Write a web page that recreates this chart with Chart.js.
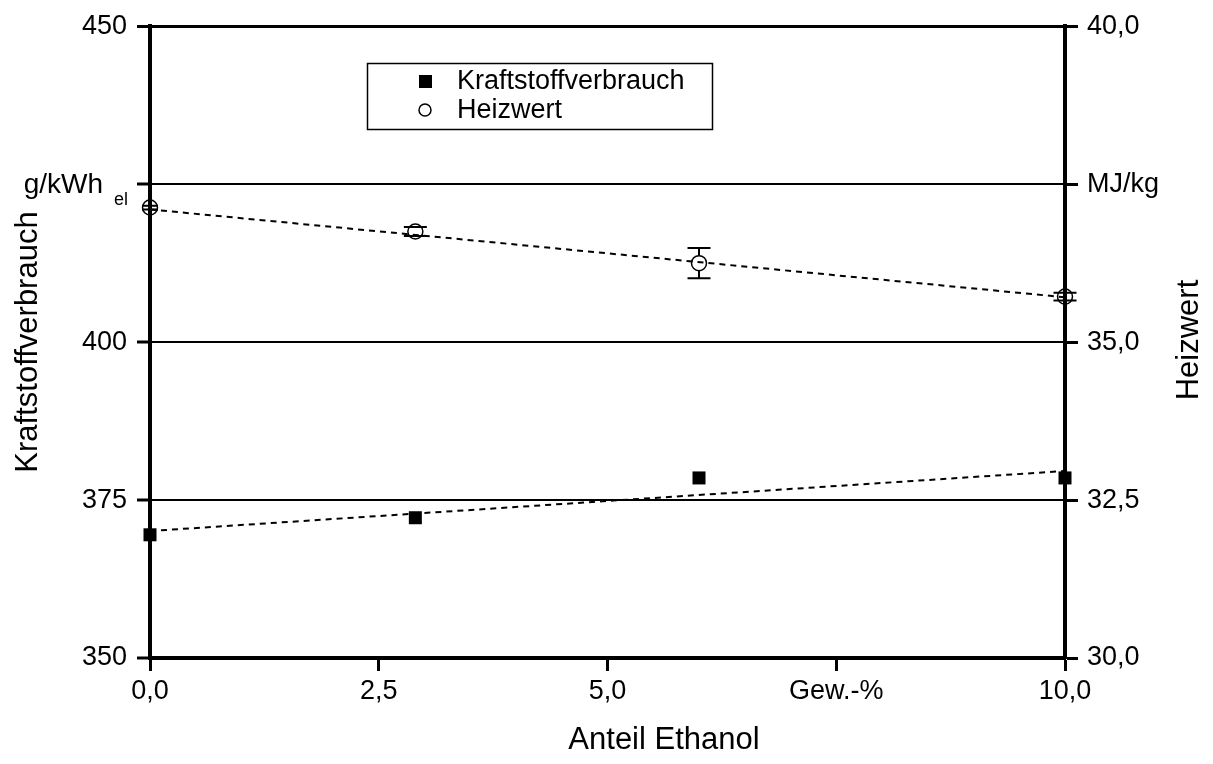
<!DOCTYPE html>
<html>
<head>
<meta charset="utf-8">
<script src="https://cdn.jsdelivr.net/npm/chart.js@4/dist/chart.umd.min.js"></script>
<style>
    body { margin: 0; background: #fff; }
    #wrap { width: 1213px; height: 764px; }
</style>
</head>
<body>
<div id="wrap"><canvas id="chart" width="1213" height="764"></canvas></div>
<script>
// Data
const ethanol = [0, 2.9, 6.0, 10.0];
const verbrauch = [369.5, 372.2, 378.5, 378.5];
const heizwert = [37.13, 36.75, 36.25, 35.72];
const heizwertErr = [0.03, 0.07, 0.24, 0.06];

// linear fits as drawn (end points)
const trendX = [0, 10];
const verbrauchTrend = [370.1, 379.6];
const heizwertTrend = [37.1, 35.71];

const xTicks = ['0,0', '2,5', '5,0', 'Gew.-%', '10,0'];
const leftTicks = ['350', '375', '400', '', '450'];
const rightTicks = ['30,0', '32,5', '35,0', 'MJ/kg', '40,0'];

const FONT = "'Liberation Sans', Arial, sans-serif";

const pts = (xs, ys) => xs.map((x, i) => ({ x: x, y: ys[i] }));

// error bars, legend box, unit label with subscript, axis titles
const extras = {
    id: 'extras',
    afterDatasetsDraw(chart) {
        const ctx = chart.ctx;
        const xs = chart.scales.x, yr = chart.scales.y2;
        const r = 7.5;
        ctx.save();
        ctx.strokeStyle = '#000';
        ctx.lineWidth = 2;
        ethanol.forEach((x, i) => {
            const px = xs.getPixelForValue(x);
            const py = yr.getPixelForValue(heizwert[i]);
            const top = yr.getPixelForValue(heizwert[i] + heizwertErr[i]);
            const bot = yr.getPixelForValue(heizwert[i] - heizwertErr[i]);
            const cap = heizwertErr[i] < 0.05 ? 8 : 11.5;
            ctx.beginPath();
            if (top < py - r) { ctx.moveTo(px, top); ctx.lineTo(px, py - r); }
            if (bot > py + r) { ctx.moveTo(px, py + r); ctx.lineTo(px, bot); }
            ctx.moveTo(px - cap, top); ctx.lineTo(px + cap, top);
            ctx.moveTo(px - cap, bot); ctx.lineTo(px + cap, bot);
            ctx.stroke();
        });
        ctx.restore();
    },
    afterDraw(chart) {
        const ctx = chart.ctx;
        const yl = chart.scales.y;
        ctx.save();
        ctx.fillStyle = '#000';
        ctx.strokeStyle = '#000';

        // g/kWh_el at the 425 tick
        const y425 = yl.getPixelForValue(425);
        ctx.textBaseline = 'middle';
        ctx.textAlign = 'right';
        ctx.font = '18px ' + FONT;
        ctx.fillText('el', 128, y425 + 16);
        const elW = ctx.measureText('el').width;
        ctx.font = '28px ' + FONT;
        ctx.fillText('g/kWh', 128 - elW - 11, y425 + 1);

        // axis titles
        ctx.font = '31px ' + FONT;
        ctx.textAlign = 'center';
        ctx.save();
        ctx.translate(28, 342);
        ctx.rotate(-Math.PI / 2);
        ctx.fillText('Kraftstoffverbrauch', 0, 0);
        ctx.restore();
        ctx.save();
        ctx.translate(1189, 340);
        ctx.rotate(-Math.PI / 2);
        ctx.fillText('Heizwert', 0, 0);
        ctx.restore();
        ctx.fillText('Anteil Ethanol', 664, 740);

        // legend
        ctx.lineWidth = 1.5;
        ctx.strokeRect(367.5, 63.5, 345, 66);
        ctx.fillRect(419, 75, 13, 13);
        ctx.beginPath();
        ctx.arc(425, 110, 6, 0, Math.PI * 2);
        ctx.stroke();
        ctx.font = '27px ' + FONT;
        ctx.textAlign = 'left';
        ctx.fillText(chart.data.datasets[2].label, 457, 82);
        ctx.fillText(chart.data.datasets[3].label, 457, 111);
        ctx.restore();
    }
};

const ctx = document.getElementById('chart').getContext('2d');
new Chart(ctx, {
    type: 'scatter',
    data: {
        datasets: [
            {
                label: 'trend verbrauch',
                data: pts(trendX, verbrauchTrend),
                showLine: true,
                borderColor: '#000',
                borderWidth: 2,
                borderDash: [6, 5],
                pointRadius: 0,
                clip: false,
                yAxisID: 'y'
            },
            {
                label: 'trend heizwert',
                data: pts(trendX, heizwertTrend),
                showLine: true,
                borderColor: '#000',
                borderWidth: 2,
                borderDash: [6, 5],
                pointRadius: 0,
                clip: false,
                yAxisID: 'y2'
            },
            {
                label: 'Kraftstoffverbrauch',
                data: pts(ethanol, verbrauch),
                pointStyle: 'rect',
                pointRadius: 9.2,
                backgroundColor: '#000',
                borderColor: '#000',
                borderWidth: 0,
                clip: false,
                yAxisID: 'y'
            },
            {
                label: 'Heizwert',
                data: pts(ethanol, heizwert),
                pointStyle: 'circle',
                pointRadius: 7.5,
                backgroundColor: 'rgba(0,0,0,0)',
                borderColor: '#000',
                borderWidth: 1.5,
                clip: false,
                yAxisID: 'y2'
            }
        ]
    },
    options: {
        responsive: false,
        animation: false,
        layout: { padding: { top: 22, left: 0, right: 0, bottom: 0 } },
        plugins: {
            legend: { display: false },
            tooltip: { enabled: false }
        },
        scales: {
            x: {
                type: 'linear',
                min: 0,
                max: 10,
                afterFit: (s) => { s.height = 106; },
                afterBuildTicks: (s) => { s.ticks = [0, 2.5, 5, 7.5, 10].map(v => ({ value: v })); },
                ticks: {
                    color: '#000',
                    font: { family: FONT, size: 27 },
                    padding: 4,
                    maxRotation: 0,
                    callback: (v, i) => xTicks[i]
                },
                grid: { drawOnChartArea: false, tickLength: 13, tickWidth: 3, tickColor: '#000' },
                border: { display: true, color: '#000', width: 4 }
            },
            y: {
                position: 'left',
                min: 350,
                max: 450,
                afterFit: (s) => { s.width = 150; },
                afterBuildTicks: (s) => { s.ticks = [350, 375, 400, 425, 450].map(v => ({ value: v })); },
                ticks: {
                    color: '#000',
                    font: { family: FONT, size: 27 },
                    padding: 10,
                    callback: (v, i) => leftTicks[i]
                },
                grid: {
                    color: (c) => c.tick && c.tick.value === 350 ? 'rgba(0,0,0,0)' : '#000',
                    lineWidth: (c) => c.tick && c.tick.value === 450 ? 3 : 2,
                    tickLength: 13,
                    tickWidth: 3,
                    tickColor: '#000'
                },
                border: { display: true, color: '#000', width: 4 }
            },
            y2: {
                position: 'right',
                min: 30,
                max: 40,
                afterFit: (s) => { s.width = 148; },
                afterBuildTicks: (s) => { s.ticks = [30, 32.5, 35, 37.5, 40].map(v => ({ value: v })); },
                ticks: {
                    color: '#000',
                    font: { family: FONT, size: 27 },
                    padding: 9,
                    callback: (v, i) => rightTicks[i]
                },
                grid: { drawOnChartArea: false, tickLength: 13, tickWidth: 3, tickColor: '#000' },
                border: { display: true, color: '#000', width: 4 }
            }
        }
    },
    plugins: [extras]
});
</script>
</body>
</html>
